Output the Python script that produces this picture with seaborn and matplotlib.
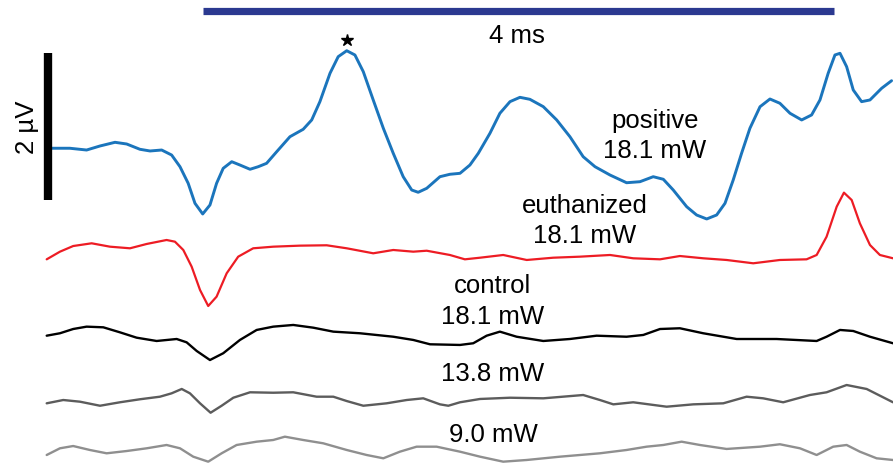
import numpy as np
import pandas as pd
import matplotlib
matplotlib.use("Agg")
import matplotlib.pyplot as plt
import seaborn as sns

# ---- data: time (ms) and amplitude (µV, relative to each trace's start) ----
t_pos = [0.042, 0.158, 0.264, 0.349, 0.444, 0.518, 0.602, 0.666, 0.740, 0.803, 0.856, 0.908,
         0.951, 1.000, 1.046, 1.088, 1.130, 1.184, 1.236, 1.300, 1.352, 1.405, 1.469, 1.553,
         1.637, 1.691, 1.743, 1.807, 1.859, 1.913, 1.965, 2.018, 2.081, 2.145, 2.208, 2.271,
         2.325, 2.366, 2.420, 2.504, 2.567, 2.631, 2.694, 2.747, 2.821, 2.884, 2.948, 3.011,
         3.074, 3.159, 3.244, 3.328, 3.412, 3.487, 3.582, 3.687, 3.772, 3.856, 3.920, 3.983,
         4.068, 4.131, 4.195, 4.258, 4.311, 4.363, 4.416, 4.469, 4.533, 4.596, 4.659, 4.723,
         4.797, 4.860, 4.913, 4.965, 5.008, 5.040, 5.082, 5.124, 5.177, 5.230, 5.304, 5.367]
v_pos = [0.010, 0.010, -0.014, 0.041, 0.091, 0.068, -0.004, -0.027, -0.014, -0.082, -0.241, -0.467,
         -0.739, -0.884, -0.762, -0.467, -0.263, -0.173, -0.218, -0.276, -0.241, -0.195, -0.037, 0.167,
         0.268, 0.395, 0.644, 1.030, 1.256, 1.337, 1.279, 1.052, 0.667, 0.282, -0.059, -0.377,
         -0.558, -0.589, -0.535, -0.377, -0.344, -0.331, -0.218, -0.059, 0.214, 0.486, 0.644, 0.703,
         0.676, 0.576, 0.395, 0.167, -0.105, -0.241, -0.354, -0.459, -0.445, -0.377, -0.412, -0.558,
         -0.785, -0.898, -0.952, -0.898, -0.739, -0.422, -0.059, 0.282, 0.575, 0.680, 0.622, 0.486,
         0.395, 0.463, 0.667, 1.030, 1.279, 1.302, 1.120, 0.803, 0.644, 0.667, 0.826, 0.929]

t_euth = [0.011, 0.095, 0.179, 0.296, 0.412, 0.539, 0.645, 0.771, 0.824, 0.877, 0.930, 0.983,
          1.035, 1.088, 1.152, 1.225, 1.320, 1.447, 1.616, 1.786, 1.913, 2.081, 2.208, 2.335,
          2.420, 2.567, 2.662, 2.758, 2.905, 3.054, 3.222, 3.391, 3.582, 3.729, 3.899, 4.025,
          4.173, 4.321, 4.490, 4.659, 4.828, 4.892, 4.955, 5.019, 5.065, 5.114, 5.166, 5.230,
          5.293, 5.376]
v_euth = [-0.127, -0.023, 0.054, 0.091, 0.045, 0.023, 0.082, 0.136, 0.113, 0.000, -0.227, -0.544,
          -0.762, -0.635, -0.317, -0.091, 0.023, 0.045, 0.059, 0.064, 0.023, -0.045, 0.000, -0.023,
          -0.010, -0.068, -0.127, -0.105, -0.068, -0.136, -0.105, -0.091, -0.068, -0.113, -0.127, -0.082,
          -0.113, -0.136, -0.181, -0.136, -0.127, -0.068, 0.181, 0.589, 0.780, 0.680, 0.363, 0.068,
          -0.068, -0.113]

t_ctrl = [0.011, 0.095, 0.179, 0.264, 0.370, 0.475, 0.581, 0.708, 0.835, 0.898, 0.962, 1.046,
          1.130, 1.236, 1.342, 1.447, 1.574, 1.701, 1.828, 1.997, 2.208, 2.335, 2.441, 2.631,
          2.715, 2.800, 2.884, 2.990, 3.159, 3.328, 3.497, 3.687, 3.793, 3.899, 4.025, 4.173,
          4.385, 4.638, 4.892, 4.955, 5.040, 5.124, 5.230, 5.376]
v_ctrl = [0.004, 0.037, 0.095, 0.127, 0.118, 0.050, -0.023, -0.068, -0.041, -0.086, -0.204, -0.327,
          -0.235, -0.054, 0.082, 0.127, 0.150, 0.113, 0.059, 0.037, -0.010, -0.054, -0.113, -0.122,
          -0.099, 0.004, 0.059, -0.010, -0.068, -0.041, 0.004, -0.010, 0.014, 0.095, 0.105, 0.037,
          -0.041, -0.041, -0.068, -0.010, 0.082, 0.068, -0.010, -0.099]

t_138 = [0.011, 0.116, 0.222, 0.349, 0.475, 0.602, 0.729, 0.803, 0.867, 0.919, 0.983, 1.050,
         1.120, 1.194, 1.300, 1.447, 1.574, 1.722, 1.828, 1.913, 2.018, 2.166, 2.293, 2.398,
         2.504, 2.557, 2.631, 2.758, 2.948, 3.159, 3.412, 3.518, 3.603, 3.729, 3.941, 4.110,
         4.300, 4.448, 4.553, 4.680, 4.849, 4.955, 5.082, 5.209, 5.293, 5.376]
v_138 = [-0.045, 0.000, -0.023, -0.078, -0.031, 0.010, 0.045, 0.091, 0.150, 0.091, -0.045, -0.173,
         -0.078, 0.031, 0.105, 0.099, 0.105, 0.045, 0.045, -0.014, -0.078, -0.045, 0.000, 0.023,
         -0.059, -0.078, -0.031, 0.014, 0.031, 0.023, 0.068, 0.000, -0.059, -0.031, -0.091, -0.059,
         -0.045, 0.045, 0.023, -0.031, 0.068, 0.105, 0.204, 0.150, 0.059, -0.031]

t_90 = [0.011, 0.095, 0.179, 0.285, 0.391, 0.518, 0.645, 0.771, 0.856, 0.940, 1.035, 1.120,
        1.215, 1.342, 1.447, 1.521, 1.637, 1.764, 1.913, 2.039, 2.145, 2.250, 2.356, 2.483,
        2.631, 2.758, 2.905, 3.054, 3.265, 3.518, 3.687, 3.814, 3.920, 4.036, 4.152, 4.321,
        4.533, 4.659, 4.786, 4.892, 4.997, 5.082, 5.166, 5.272, 5.376]
v_90 = [-0.068, 0.023, 0.054, 0.000, -0.045, -0.014, 0.023, 0.068, 0.023, -0.091, -0.159, -0.045,
        0.068, 0.113, 0.136, 0.181, 0.136, 0.091, 0.000, -0.068, -0.113, -0.023, 0.045, 0.045,
        -0.023, -0.091, -0.159, -0.136, -0.091, -0.045, 0.000, 0.045, 0.068, 0.113, 0.068, 0.014,
        0.045, 0.078, 0.023, -0.068, 0.045, 0.068, -0.023, -0.113, -0.136]

trace_labels = ["positive\n18.1 mW", "euthanized\n18.1 mW", "control\n18.1 mW", "13.8 mW", "9.0 mW"]
scale_time_ms = 4
scale_amp_uv = 2

# ---- styles / layout ----
traces = [(t_pos, v_pos), (t_euth, v_euth), (t_ctrl, v_ctrl), (t_138, v_138), (t_90, v_90)]
offsets = [4.272, 2.898, 1.728, 0.857, 0.177]
colors = ["#1b75bc", "#ed1c24", "#000000", "#5c5c5c", "#8f8f8f"]
widths = [2.1, 1.6, 1.7, 1.7, 1.7]

sns.set_style("white")
plt.rcParams["font.family"] = ["Liberation Sans", "DejaVu Sans"]
plt.rcParams["text.color"] = "black"

fig = plt.figure(figsize=(8.93, 4.63), dpi=100)
ax = fig.add_axes([0, 0, 1, 1])

for (t, v), off, c, lw in zip(traces, offsets, colors, widths):
    df = pd.DataFrame({"t": t, "v": np.array(v) + off})
    sns.lineplot(data=df, x="t", y="v", color=c, linewidth=lw, ax=ax,
                 sort=False, estimator=None, solid_joinstyle="round",
                 solid_capstyle="round")

# scale bars
ax.plot([1.0, 1.0 + scale_time_ms], [6.143, 6.143], color="#2b3990", linewidth=5.2,
        solid_capstyle="butt")
ax.plot([0.019, 0.019], [5.578, 5.578 - scale_amp_uv], color="black", linewidth=6,
        solid_capstyle="butt")

fs = 18.5
ax.text(2.99, 5.714, f"{scale_time_ms} ms", ha="center", va="baseline", fontsize=fs, color="black")
ax.text(-0.114, 4.571, f"{scale_amp_uv} µV", ha="center", va="center", rotation=90,
        fontsize=fs, color="black")

# trace labels (lines placed by baseline)
label_pos = [(3.867, [4.558, 4.150]), (3.423, [3.401, 2.993]), (2.840, [2.313, 1.891]),
             (2.840, [1.116]), (2.840, [0.286])]
for lab, (x, ys) in zip(trace_labels, label_pos):
    for line, y in zip(lab.split("\n"), ys):
        ax.text(x, y, line, ha="center", va="baseline", fontsize=fs, color="black")

# star above main peak
ax.plot([1.914], [5.755], marker="*", color="black", markersize=9, linestyle="none")

ax.set_xlim(-0.285, 5.376)
ax.set_ylim(0, 6.299)
ax.axis("off")
fig.savefig("out.png", dpi=100)
